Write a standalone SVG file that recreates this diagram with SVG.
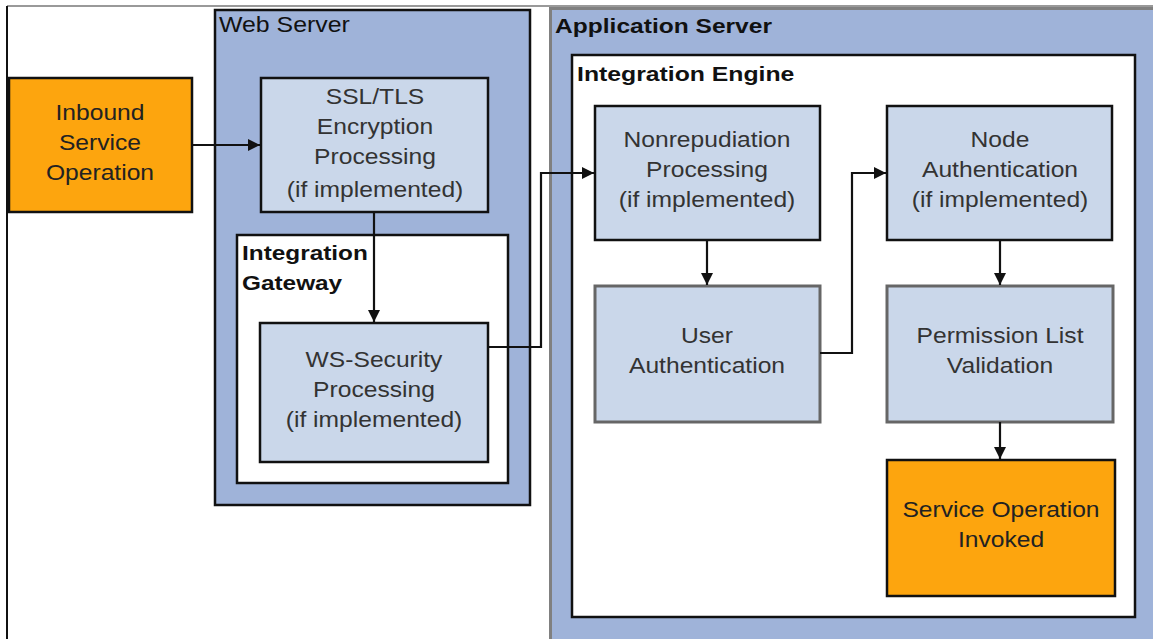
<svg xmlns="http://www.w3.org/2000/svg" width="1153" height="639" viewBox="0 0 1153 639">
<style>
  .container { fill: #9fb3d9; }
  .white { fill: #ffffff; stroke: #111; stroke-width: 2.5; }
  .box { fill: #cad7ea; stroke: #111; stroke-width: 2.5; }
  .boxg { fill: #cad7ea; stroke: #666; stroke-width: 3; }
  .orange { fill: #fda50e; stroke: #111; stroke-width: 2.5; }
  .t { font-family: "Liberation Sans", Arial, sans-serif; font-size: 22px; fill: #333; text-anchor: middle; }
  .to { font-family: "Liberation Sans", Arial, sans-serif; font-size: 22px; fill: #222; text-anchor: middle; }
  .lbl { font-family: "Liberation Sans", Arial, sans-serif; font-size: 22px; fill: #111; }
  .lblb { font-family: "Liberation Sans", Arial, sans-serif; font-size: 21px; font-weight: bold; fill: #111; }
  .conn { fill: none; stroke: #111; stroke-width: 2.2; }
</style>
<defs>
  <marker id="arrow" viewBox="0 0 10 10" refX="10" refY="5" markerWidth="12" markerHeight="12" markerUnits="userSpaceOnUse" orient="auto">
    <path d="M0,0 L10,5 L0,10 z" fill="#111"/>
  </marker>
</defs>
<rect x="0" y="0" width="1153" height="639" fill="#ffffff"/>
<g id="frame">
  <line x1="7" y1="6" x2="1153" y2="6" stroke="#999" stroke-width="2"/>
  <line x1="7" y1="6" x2="7" y2="639" stroke="#111" stroke-width="2"/>
</g>
<g id="web-server">
  <rect x="215" y="10" width="315" height="495" class="container" stroke="#111" stroke-width="2.5"/>
  <text class="lbl" transform="translate(219,0) scale(1.13,1)" x="0" y="32">Web Server</text>
</g>
<g id="application-server">
  <rect x="550.5" y="8.5" width="640" height="660" class="container" stroke="#808080" stroke-width="3"/>
  <text class="lblb" transform="translate(555,0) scale(1.17,1)" x="0" y="33">Application Server</text>
</g>
<g id="integration-gateway">
  <rect x="237" y="235" width="271" height="248" class="white" stroke-width="2"/>
  <text class="lblb" transform="translate(242,0) scale(1.16,1)"><tspan x="0" y="260">Integration</tspan><tspan x="0" y="290">Gateway</tspan></text>
</g>
<g id="integration-engine">
  <rect x="572" y="55" width="563" height="562" class="white"/>
  <text class="lblb" transform="translate(577,0) scale(1.18,1)" x="0" y="81">Integration Engine</text>
</g>
<g id="inbound-service-operation">
  <rect x="9" y="78" width="183" height="134" class="orange"/>
  <text class="to" transform="translate(100,0) scale(1.12,1)"><tspan x="0" y="120">Inbound</tspan><tspan x="0" y="150">Service</tspan><tspan x="0" y="180">Operation</tspan></text>
</g>
<g id="ssl-tls">
  <rect x="261" y="78" width="227" height="134" class="box"/>
  <text class="t" transform="translate(375,0) scale(1.12,1)"><tspan x="0" y="104">SSL/TLS</tspan><tspan x="0" y="134">Encryption</tspan><tspan x="0" y="164">Processing</tspan><tspan x="0" y="197">(if implemented)</tspan></text>
</g>
<g id="ws-security">
  <rect x="260" y="323" width="228" height="139" class="box"/>
  <text class="t" transform="translate(374,0) scale(1.12,1)"><tspan x="0" y="367">WS-Security</tspan><tspan x="0" y="397">Processing</tspan><tspan x="0" y="427">(if implemented)</tspan></text>
</g>
<g id="nonrepudiation">
  <rect x="595" y="106" width="225" height="134" class="box" stroke-width="2"/>
  <text class="t" transform="translate(707,0) scale(1.12,1)"><tspan x="0" y="147">Nonrepudiation</tspan><tspan x="0" y="177">Processing</tspan><tspan x="0" y="207">(if implemented)</tspan></text>
</g>
<g id="node-authentication">
  <rect x="887" y="106" width="225" height="134" class="box" stroke-width="2"/>
  <text class="t" transform="translate(1000,0) scale(1.12,1)"><tspan x="0" y="147">Node</tspan><tspan x="0" y="177">Authentication</tspan><tspan x="0" y="207">(if implemented)</tspan></text>
</g>
<g id="user-authentication">
  <rect x="595" y="286" width="225" height="136" class="boxg"/>
  <text class="t" transform="translate(707,0) scale(1.12,1)"><tspan x="0" y="343">User</tspan><tspan x="0" y="373">Authentication</tspan></text>
</g>
<g id="permission-list-validation">
  <rect x="887" y="286" width="226" height="136" class="boxg"/>
  <text class="t" transform="translate(1000,0) scale(1.12,1)"><tspan x="0" y="343">Permission List</tspan><tspan x="0" y="373">Validation</tspan></text>
</g>
<g id="service-operation-invoked">
  <rect x="887" y="460" width="228" height="136" class="orange"/>
  <text class="to" transform="translate(1001,0) scale(1.12,1)"><tspan x="0" y="517">Service Operation</tspan><tspan x="0" y="547">Invoked</tspan></text>
</g>
<g id="connectors">
  <path class="conn" d="M192,145 H260" marker-end="url(#arrow)"/>
  <path class="conn" d="M374,212 V322" marker-end="url(#arrow)"/>
  <path class="conn" d="M488,347 H541 V173 H594" marker-end="url(#arrow)"/>
  <path class="conn" d="M707,240 V285" marker-end="url(#arrow)"/>
  <path class="conn" d="M820,353 H852 V173 H886" marker-end="url(#arrow)"/>
  <path class="conn" d="M1000,240 V285" stroke="#444" marker-end="url(#arrow)"/>
  <path class="conn" d="M1000,422 V459" marker-end="url(#arrow)"/>
</g>
</svg>
